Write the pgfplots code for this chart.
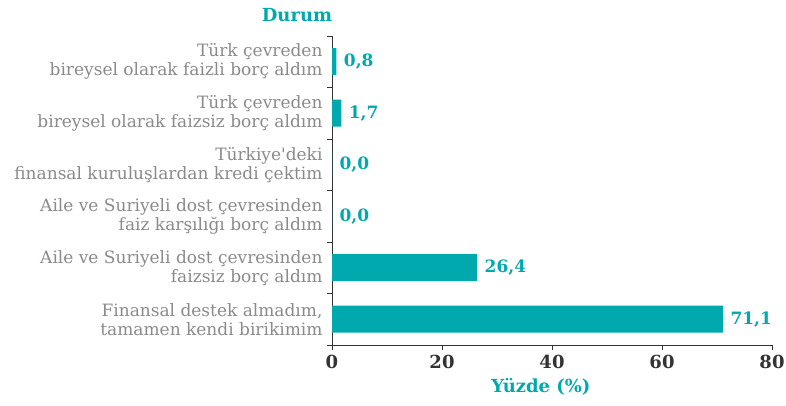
\documentclass[border=0pt]{standalone}
\usepackage{pgfplots}
\pgfplotsset{compat=1.18}
\usepackage{fontspec}
\setmainfont{DejaVu Serif}[Ligatures=TeXOff]
\definecolor{teal1}{HTML}{00A9AE}
\definecolor{graytxt}{HTML}{8A8A8A}
\definecolor{dark}{HTML}{333333}
\begin{document}
\begin{tikzpicture}[x=1pt,y=1pt]
\path[use as bounding box] (0,0) rectangle (786,406);
\begin{axis}[
 at={(332pt,61pt)}, anchor=south west, scale only axis, width=440pt, height=309pt,
 xbar, bar width=27pt,
 xmin=0, xmax=80, ymin=-0.5, ymax=5.5,
 axis x line*=bottom, axis y line*=left,
 axis line style={dark, line width=0.8pt},
 xtick={0,20,...,80},
 ytick={0,...,5},
 yticklabels={{Finansal destek almadım,\\tamamen kendi birikimim},
  {Aile ve Suriyeli dost çevresinden\\faizsiz borç aldım},
  {Aile ve Suriyeli dost çevresinden\\faiz karşılığı borç aldım},
  {Türkiye'deki\\finansal kuruluşlardan kredi çektim},
  {Türk çevreden\\bireysel olarak faizsiz borç aldım},
  {Türk çevreden\\bireysel olarak faizli borç aldım}},
 minor ytick={-0.5,0.5,...,5.5},
 major y tick style={draw=none},
 minor y tick style={dark, line width=0.8pt},
 major x tick style={dark, line width=0.8pt},
 tick align=outside,
 major tick length=5pt, minor tick length=5pt,
 /pgf/number format/assume math mode=true,
 xticklabel style={font=\bfseries\fontsize{18}{18}\selectfont, text=dark, yshift=-2pt},
 yticklabel style={font=\fontsize{17}{19}\selectfont, text=graytxt, align=right, xshift=-1pt},
 point meta=explicit symbolic,
 nodes near coords,
 every node near coord/.append style={font=\bfseries\fontsize{17}{17}\selectfont, text=teal1, anchor=west, xshift=4pt},
 xlabel={Yüzde (\%)},
 xlabel style={font=\bfseries\fontsize{18}{18}\selectfont, text=teal1, at={(ticklabel cs:0.475)}, anchor=north, yshift=-2pt},
 clip=false,
]
\addplot[fill=teal1, draw=none] coordinates {
 (71.1,0) [{71,1}]
 (26.4,1) [{26,4}]
 (0.0,2) [{0,0}]
 (0.0,3) [{0,0}]
 (1.7,4) [{1,7}]
 (0.8,5) [{0,8}]
};
\end{axis}
\node[font=\bfseries\fontsize{18}{18}\selectfont, text=teal1] at (297,391) {Durum};
\end{tikzpicture}
\end{document}
